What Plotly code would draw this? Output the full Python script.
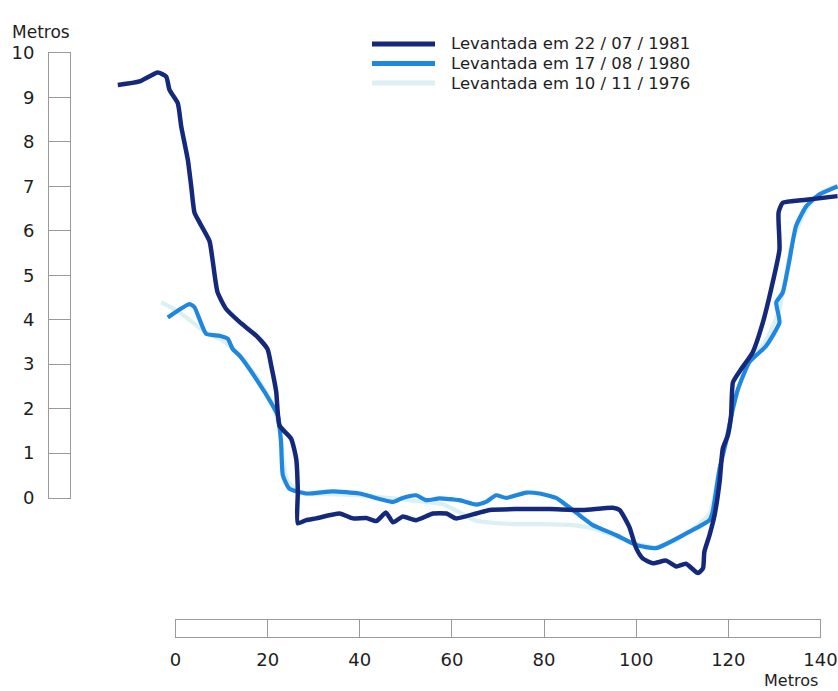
import plotly.graph_objects as go

W, H = 838, 691

# Cross-section profiles (distance in metres, elevation in metres)
x_1981 = [-12.52, -7.81, -3.84, -2.02, -1.30, 0.50, 1.24, 2.67, 3.41, 4.12, 5.21, 7.38, 8.03,
          9.12, 11.0, 13.89, 17.52, 19.97, 20.77, 21.86, 22.57, 25.11, 26.2, 26.55, 26.55,
          28.37, 30.5, 35.6, 38.5, 41.4, 43.6, 45.7, 47.2, 49.3, 52.2, 55.9, 58.8, 60.9,
          65.3, 68.2, 74.0, 81.2, 88.4, 94.9, 96.4, 98.5, 100.0, 101.4, 103.6, 106.5, 108.7,
          110.8, 113.4, 114.5, 114.8, 115.9, 117.0, 118.1, 118.8, 119.9, 120.6, 121.0, 122.8,
          125.3, 127.5, 129.3, 131.1, 130.9, 131.8, 136.9, 143.7]
y_1981 = [9.28, 9.36, 9.56, 9.47, 9.17, 8.87, 8.35, 7.60, 7.00, 6.41, 6.19, 5.77, 5.36,
          4.62, 4.24, 3.95, 3.64, 3.34, 2.97, 2.38, 1.62, 1.32, 0.87, 0.13, -0.58,
          -0.51, -0.47, -0.36, -0.47, -0.46, -0.53, -0.34, -0.56, -0.43, -0.51, -0.36, -0.36, -0.47,
          -0.36, -0.28, -0.26, -0.26, -0.28, -0.23, -0.28, -0.66, -1.14, -1.37, -1.48, -1.42, -1.55,
          -1.49, -1.70, -1.59, -1.22, -0.85, -0.40, 0.35, 1.10, 1.40, 1.85, 2.59, 2.89,
          3.27, 3.94, 4.69, 5.58, 6.41, 6.63, 6.70, 6.78]

x_1980 = [-1.67, 3.04, 4.12, 6.66, 9.55, 11.35, 12.4, 13.9, 17.5, 21.1, 22.2, 22.9, 23.3,
          24.7, 28.4, 34.1, 39.9, 47.2, 49.3, 52.2, 54.4, 57.3, 61.6, 65.3, 67.4, 69.6,
          71.8, 76.1, 79.0, 82.6, 84.8, 87.7, 90.6, 95.7, 100.0, 104.3, 110.1, 115.9, 116.6,
          118.1, 119.5, 121.0, 122.1, 124.6, 128.2, 131.1, 130.4, 131.8, 132.6, 133.3, 134.7,
          136.9, 139.8, 143.7]
y_1980 = [4.05, 4.35, 4.28, 3.68, 3.64, 3.57, 3.34, 3.19, 2.67, 2.07, 1.85, 1.26, 0.50,
          0.20, 0.09, 0.14, 0.09, -0.10, -0.01, 0.05, -0.06, -0.02, -0.06, -0.16, -0.10, 0.05,
          -0.01, 0.11, 0.09, -0.01, -0.17, -0.40, -0.62, -0.85, -1.07, -1.14, -0.85, -0.51, -0.32,
          0.65, 1.25, 2.0, 2.44, 3.05, 3.41, 3.94, 4.39, 4.61, 4.98, 5.36, 6.11,
          6.55, 6.82, 7.00]

x_1976 = [-3.1, 0.0, 3.0, 6.0, 10.0, 14.0, 18.0, 21.0, 22.5, 23.2, 24.2, 27.0, 32.0, 40.0,
          50.0, 58.0, 62.0, 65.0, 70.0, 75.0, 80.0, 86.0, 90.0, 95.0, 100.0, 104.0, 108.0, 113.0,
          116.0, 118.0, 121.0, 124.0, 128.0, 131.0, 134.0, 137.0, 140.0, 143.7]
y_1976 = [4.39, 4.22, 4.0, 3.75, 3.55, 3.2, 2.65, 2.1, 1.6, 1.0, 0.4, 0.1, 0.08, 0.05,
          -0.05, -0.15, -0.35, -0.52, -0.58, -0.6, -0.6, -0.62, -0.68, -0.85, -1.03, -1.12, -1.0,
          -0.65, -0.35, 0.6, 2.0, 3.0, 3.5, 4.2, 5.8, 6.5, 6.85, 7.02]

series_names = ["Levantada em 22 / 07 / 1981",
                "Levantada em 17 / 08 / 1980",
                "Levantada em 10 / 11 / 1976"]
series_colors = ["#14297c", "#1f87dd", "#dcf0f4"]
series_widths = [4.5, 4.2, 4.2]

x_ticks = [0, 20, 40, 60, 80, 100, 120, 140]
y_ticks = list(range(0, 11))
axis_unit = "Metros"

# pixel geometry of the drawing
X0_PX, X_UNIT_PX = 175.5, 4.607    # pixel of x=0 and pixels per metre
Y0_PX, Y_UNIT_PX = 497.5, 44.45    # pixel of y=0 and pixels per metre

FONT = "DejaVu Sans"
TEXT_COLOR = "#1e1e1e"
BOX_COLOR = "#9a9a9a"


def px(xp):
    return xp / W


def py(yp):
    return 1 - yp / H


fig = go.Figure()

profiles = [(x_1976, y_1976, 2), (x_1980, y_1980, 1), (x_1981, y_1981, 0)]
for xs, ys, i in profiles:
    fig.add_trace(go.Scatter(
        x=xs, y=ys, mode="lines", name=series_names[i],
        line=dict(color=series_colors[i], width=series_widths[i],
                  shape="spline", smoothing=0.5),
        showlegend=False, hoverinfo="skip"))

# empty traces so the two scale boxes get their own subplots
fig.add_trace(go.Scatter(x=[], y=[], xaxis="x2", yaxis="y2", showlegend=False))
fig.add_trace(go.Scatter(x=[], y=[], xaxis="x3", yaxis="y3", showlegend=False))

tick_font = dict(family=FONT, size=18, color=TEXT_COLOR)

fig.update_layout(
    width=W, height=H,
    margin=dict(l=0, r=0, t=0, b=0, autoexpand=False),
    paper_bgcolor="white", plot_bgcolor="rgba(0,0,0,0)",
    xaxis=dict(domain=[0, 1], range=[(0 - X0_PX) / X_UNIT_PX, (W - X0_PX) / X_UNIT_PX],
               visible=False, automargin=False),
    yaxis=dict(domain=[0, 1], range=[(Y0_PX - H) / Y_UNIT_PX, Y0_PX / Y_UNIT_PX],
               visible=False, automargin=False),
    # horizontal scale box
    xaxis2=dict(domain=[px(X0_PX), px(X0_PX + 140 * X_UNIT_PX)], range=[0, 140],
                anchor="y2", tickvals=x_ticks, showgrid=True, gridcolor=BOX_COLOR,
                gridwidth=1, showline=True, mirror=True, linecolor=BOX_COLOR, linewidth=1,
                ticks="", zeroline=False, tickfont=tick_font, ticklabelstandoff=6,
                ticklabeloverflow="allow", automargin=False),
    yaxis2=dict(domain=[py(637), py(620)], range=[0, 1], anchor="x2",
                showticklabels=False, showgrid=False, showline=True, mirror=True,
                linecolor=BOX_COLOR, linewidth=1, zeroline=False, ticks="",
                automargin=False),
    # vertical scale box
    xaxis3=dict(domain=[px(49), px(70)], range=[0, 1], anchor="y3",
                showticklabels=False, showgrid=False, showline=True, mirror=True,
                linecolor=BOX_COLOR, linewidth=1, zeroline=False, ticks="",
                automargin=False),
    yaxis3=dict(domain=[py(Y0_PX), py(Y0_PX - 10 * Y_UNIT_PX)], range=[0, 10], anchor="x3",
                tickvals=y_ticks, showgrid=True, gridcolor=BOX_COLOR, gridwidth=1,
                showline=True, mirror=True, linecolor=BOX_COLOR, linewidth=1,
                ticks="", zeroline=False, tickfont=tick_font, ticklabelstandoff=10,
                ticklabeloverflow="allow", automargin=False),
)

annotations = [
    dict(text=axis_unit, x=px(41), y=py(32), xref="paper", yref="paper",
         xanchor="center", yanchor="middle", showarrow=False,
         font=dict(family=FONT, size=17, color=TEXT_COLOR)),
    dict(text=axis_unit, x=px(820), y=py(680), xref="paper", yref="paper",
         xanchor="right", yanchor="middle", showarrow=False,
         font=dict(family=FONT, size=16, color=TEXT_COLOR)),
]
shapes = []

# legend: key line + label for each survey
legend_rows_px = [44, 63.5, 83]
for i, name in enumerate(series_names):
    yy = py(legend_rows_px[i])
    shapes.append(dict(type="line", xref="paper", yref="paper",
                       x0=px(372), x1=px(435), y0=yy, y1=yy,
                       line=dict(color=series_colors[i], width=5)))
    annotations.append(dict(text=name, x=px(449), y=yy, xref="paper", yref="paper",
                            xanchor="left", yanchor="middle", showarrow=False,
                            font=dict(family=FONT, size=16.5, color=TEXT_COLOR)))

fig.update_layout(annotations=annotations, shapes=shapes)

fig.write_html("out.html")
